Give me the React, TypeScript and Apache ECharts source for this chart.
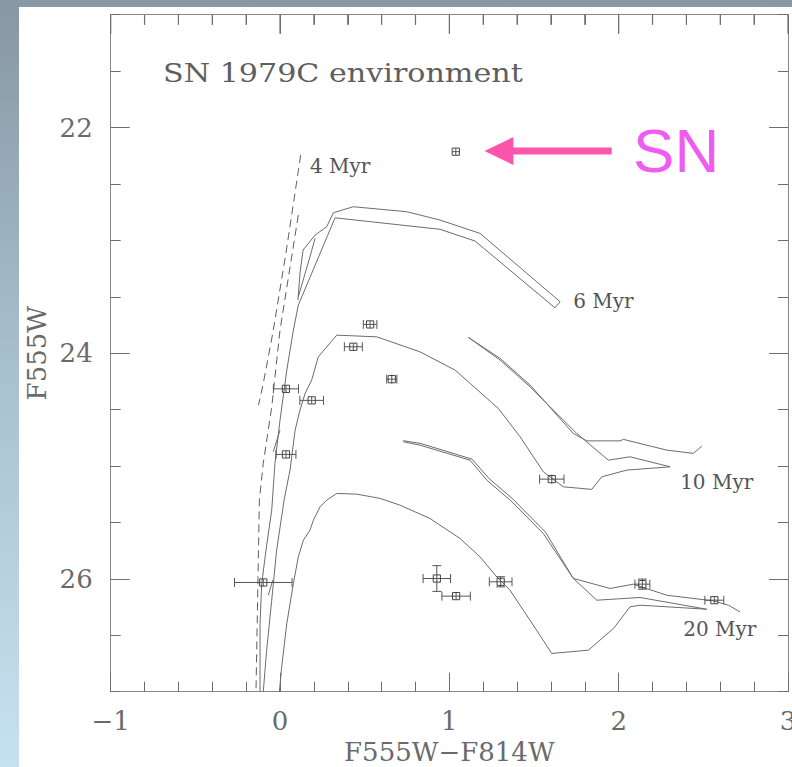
import React, { useEffect, useRef } from "react";
import * as echarts from "echarts";

// ---------- axes ----------
const xRange = [-1, 3];
const yRange = [21, 27];
const yLabelValues = [22, 24, 26];
const xMinorStep = 0.2;

const titleText = "SN 1979C environment";
const xTitle = "F555W\u2212F814W";
const yTitle = "F555W";

// ---------- observed stars: [F555W-F814W, F555W, colour error, magnitude error] ----------
const snStar = [[1.038, 22.214, 0.02, 0.03]];
const stars = [
  [0.532, 23.745, 0.04, 0.03],
  [0.433, 23.943, 0.053, 0.03],
  [0.66, 24.23, 0.03, 0.04],
  [0.035, 24.316, 0.074, 0.03],
  [0.187, 24.418, 0.07, 0.03],
  [0.035, 24.897, 0.059, 0.03],
  [1.605, 25.116, 0.072, 0.04],
  [-0.099, 26.032, 0.17, 0.03],
  [0.926, 25.997, 0.081, 0.114],
  [1.04, 26.153, 0.084, 0.03],
  [1.303, 26.026, 0.067, 0.045],
  [2.14, 26.047, 0.044, 0.045],
  [2.565, 26.189, 0.056, 0.03],
];

// ---------- isochrones ----------
const iso4MyrA = [[0.122, 22.244], [0.035, 23.113], [-0.043, 23.824], [-0.099, 24.268], [-0.127, 24.46]];
const iso4MyrB = [[0.108, 22.776], [0.0, 23.795], [-0.049, 24.478], [-0.099, 24.974], [-0.122, 25.302], [-0.142, 27.0]];

const iso6Myr = [
  [0.106, 23.529], [0.118, 23.29], [0.136, 23.086], [0.207, 22.953], [0.276, 22.879], [0.315, 22.755],
  [0.433, 22.702], [0.748, 22.746], [0.945, 22.82], [1.181, 22.938], [1.654, 23.544], [1.624, 23.598],
  [1.152, 23.006], [0.945, 22.902], [0.768, 22.873], [0.325, 22.8], [0.108, 23.574], [0.079, 23.795],
  [0.04, 24.15], [0.0, 24.593], [-0.03, 24.977], [-0.049, 25.391], [-0.083, 25.746], [-0.108, 26.041],
  [-0.118, 26.393], [-0.118, 27.0],
];
const iso6MyrLoop = [[0.207, 22.982], [0.177, 23.145], [0.108, 23.5]];
const iso6MyrBitA = [[0.0, 24.682], [-0.04, 24.874]];
const iso6MyrBitB = [[-0.043, 26.011], [-0.069, 26.144]];

const iso10Myr = [
  [-0.099, 27.002], [-0.079, 26.632], [-0.049, 26.188], [-0.02, 25.746], [0.024, 25.302], [0.059, 25.036],
  [0.089, 24.682], [0.118, 24.504], [0.148, 24.356], [0.187, 24.238], [0.226, 24.032], [0.335, 23.84],
  [0.571, 23.855], [0.827, 23.988], [1.034, 24.15], [1.289, 24.489], [1.418, 24.741], [1.555, 25.051],
  [1.673, 25.184], [1.841, 25.207], [1.9, 25.096], [2.048, 25.036], [2.304, 25.007], [2.067, 24.918],
  [1.939, 24.948], [1.752, 24.711], [1.477, 24.298], [1.3, 24.061], [1.112, 23.86],
];
const iso10MyrBranch = [
  [1.112, 23.86], [1.3, 24.046], [1.477, 24.283], [1.732, 24.711], [1.812, 24.777], [2.008, 24.777],
  [2.028, 24.764], [2.284, 24.859], [2.441, 24.888], [2.491, 24.824],
];

const iso20Myr = [
  [-0.004, 27.002], [0.01, 26.78], [0.04, 26.395], [0.079, 26.041], [0.108, 25.805], [0.138, 25.657],
  [0.177, 25.568], [0.197, 25.48], [0.236, 25.362], [0.276, 25.302], [0.335, 25.243], [0.453, 25.249],
  [0.591, 25.287], [0.709, 25.347], [0.886, 25.465], [1.063, 25.642], [1.181, 25.805], [1.28, 25.982],
  [1.358, 26.1], [1.476, 26.366], [1.605, 26.661], [1.821, 26.632], [1.969, 26.44], [2.067, 26.248],
  [2.126, 26.233], [2.52, 26.269], [2.126, 26.165], [1.871, 26.189], [1.732, 25.996], [1.555, 25.598],
  [1.359, 25.302], [1.221, 25.125], [1.122, 24.948], [0.827, 24.815], [0.728, 24.785],
];
const iso20MyrBranch = [
  [2.717, 26.293], [2.648, 26.233], [2.559, 26.195], [2.284, 26.145], [2.087, 26.047], [1.949, 26.085],
  [1.732, 25.996], [1.568, 25.586], [1.373, 25.289], [1.235, 25.112], [1.134, 24.939], [0.833, 24.801],
  [0.728, 24.775],
];

// ---------- annotations (anchor in data units) ----------
const isoLabels = [
  { text: "4 Myr", at: [0.177, 22.341] },
  { text: "6 Myr", at: [1.731, 23.538] },
  { text: "10 Myr", at: [2.363, 25.143] },
  { text: "20 Myr", at: [2.381, 26.447] },
];
const titleAnchor = [-0.691, 21.517];
const snLabel = { text: "SN", at: [2.085, 22.2] };
const snArrow = { from: [1.959, 22.208], to: [1.207, 22.208] };

const SERIF = "DejaVu Serif";
const LINE = "#6c6c6c";
const tickColor = "#6e6e6e";

function minus(v: number) {
  return v < 0 ? "\u2212" + Math.abs(v) : String(v);
}

function isoSeries(data: number[][], dashed = false) {
  return {
    type: "line",
    data,
    xAxisIndex: 0,
    yAxisIndex: 0,
    showSymbol: false,
    symbol: "none",
    silent: true,
    lineStyle: { color: dashed ? "#5e5e5e" : LINE, width: 1, type: dashed ? [8, 5] : "solid" },
    emphasis: { disabled: true },
    z: 2,
  };
}

function errRender(params: any, api: any) {
  const x = api.value(0);
  const y = api.value(1);
  const ex = api.value(2);
  const ey = api.value(3);
  const c = api.coord([x, y]);
  const l = api.coord([x - ex, y]);
  const r = api.coord([x + ex, y]);
  const t = api.coord([x, y - ey]);
  const b = api.coord([x, y + ey]);
  const cap = 4.5;
  const h = 3.6;
  const st = { stroke: "#555", lineWidth: 1, fill: null };
  const children: any[] = [
    { type: "line", shape: { x1: l[0], y1: l[1], x2: r[0], y2: r[1] }, style: st },
    { type: "line", shape: { x1: c[0], y1: t[1], x2: c[0], y2: b[1] }, style: st },
    { type: "rect", shape: { x: c[0] - h, y: c[1] - h, width: 2 * h, height: 2 * h }, style: { stroke: "#444", lineWidth: 1, fill: "rgba(0,0,0,0)" } },
  ];
  if (r[0] - c[0] > h + 1) {
    children.push({ type: "line", shape: { x1: l[0], y1: l[1] - cap, x2: l[0], y2: l[1] + cap }, style: st });
    children.push({ type: "line", shape: { x1: r[0], y1: r[1] - cap, x2: r[0], y2: r[1] + cap }, style: st });
  }
  if (b[1] - c[1] > h + 1) {
    children.push({ type: "line", shape: { x1: c[0] - cap, y1: t[1], x2: c[0] + cap, y2: t[1] }, style: st });
    children.push({ type: "line", shape: { x1: c[0] - cap, y1: b[1], x2: c[0] + cap, y2: b[1] }, style: st });
  }
  return { type: "group", children };
}

const axisLineStyle = { color: "#888", width: 1 };
const labelStyle = { fontFamily: SERIF, fontSize: 26, color: "#6a6a6a" };

function xAxisDef(position: "bottom" | "top") {
  return {
    type: "value",
    position,
    min: xRange[0],
    max: xRange[1],
    interval: 1,
    axisLine: { show: true, onZero: false, lineStyle: axisLineStyle },
    axisTick: { show: true, inside: true, length: 19, lineStyle: { color: tickColor } },
    minorTick: { show: true, splitNumber: 5, length: 10, lineStyle: { color: tickColor } },
    splitLine: { show: false },
    minorSplitLine: { show: false },
    axisLabel: position === "bottom" ? { show: true, margin: 16, formatter: minus, ...labelStyle } : { show: false },
  };
}

function yMinorDef(position: "left" | "right") {
  return {
    type: "value",
    position,
    inverse: true,
    min: yRange[0],
    max: yRange[1],
    interval: 0.5,
    axisLine: { show: true, onZero: false, lineStyle: axisLineStyle },
    axisTick: { show: true, inside: true, length: 10, lineStyle: { color: tickColor } },
    splitLine: { show: false },
    axisLabel: { show: false },
  };
}

function yMajorDef(position: "left" | "right") {
  return {
    type: "value",
    position,
    inverse: true,
    min: yRange[0],
    max: yRange[1],
    axisLine: { show: false, onZero: false },
    axisTick: { show: true, inside: true, length: 19, customValues: yLabelValues, lineStyle: { color: tickColor } },
    splitLine: { show: false },
    axisLabel:
      position === "left"
        ? { show: true, margin: 18, customValues: yLabelValues, formatter: minus, ...labelStyle }
        : { show: false },
  };
}

export default function App() {
  const ref = useRef<HTMLDivElement>(null);

  useEffect(() => {
    if (!ref.current) return;
    const chart = echarts.init(ref.current, null, { renderer: "svg" });
    const option: any = {
      animation: false,
      backgroundColor: "transparent",
      grid: { left: 110.7, top: 14.7, right: 4, bottom: 75.3, outerBoundsMode: "none", containLabel: false },
      xAxis: [xAxisDef("bottom"), xAxisDef("top")],
      yAxis: [yMinorDef("left"), yMajorDef("left"), yMinorDef("right"), yMajorDef("right")],
      series: [
        isoSeries(iso4MyrA, true),
        isoSeries(iso4MyrB, true),
        isoSeries(iso6Myr),
        isoSeries(iso6MyrLoop),
        isoSeries(iso6MyrBitA),
        isoSeries(iso6MyrBitB),
        isoSeries(iso10Myr),
        isoSeries(iso10MyrBranch),
        isoSeries(iso20Myr),
        isoSeries(iso20MyrBranch),
        {
          type: "custom",
          name: "stars",
          xAxisIndex: 0,
          yAxisIndex: 0,
          renderItem: errRender,
          data: [...snStar, ...stars],
          encode: { x: 0, y: 1 },
          silent: true,
          z: 5,
        },
      ],
    };
    chart.setOption(option);

    const p = (pt: number[]) => chart.convertToPixel({ xAxisIndex: 0, yAxisIndex: 0 }, pt) as number[];
    const tl = p([xRange[0], yRange[0]]);
    const br = p([xRange[1], yRange[1]]);
    const cx = (tl[0] + br[0]) / 2;
    const cy = (tl[1] + br[1]) / 2;

    const arrowFrom = p(snArrow.from);
    const arrowTo = p(snArrow.to);
    const headLen = 29;
    const headHalf = 14;

    // top-side ticks (mirror of the bottom axis) drawn as thin filled bars, placed through the x scale
    const nMinor = Math.round((xRange[1] - xRange[0]) / xMinorStep);
    const topTicks: any[] = [];
    for (let i = 0; i <= nMinor; i++) {
      const v = xRange[0] + i * xMinorStep;
      const q = p([v, yRange[0]]);
      const len = i % 5 === 0 ? 19 : 10;
      topTicks.push({
        type: "rect",
        z: 100,
        silent: true,
        shape: { x: q[0] - 0.6, y: q[1], width: 1.2, height: len },
        style: { fill: tickColor },
      });
    }

    const graphic: any[] = [
      ...topTicks,
      {
        type: "text",
        x: p(titleAnchor)[0],
        y: p(titleAnchor)[1],
        scaleX: 1.16,
        style: { text: titleText, fontFamily: SERIF, fontSize: 26, fill: "#5e5e5e", align: "left", verticalAlign: "middle" },
      },
      {
        type: "text",
        x: cx,
        y: br[1] + 60,
        style: { text: xTitle, fontFamily: SERIF, fontSize: 26, fill: "#6a6a6a", align: "center", verticalAlign: "middle" },
      },
      {
        type: "text",
        x: 37,
        y: cy,
        rotation: Math.PI / 2,
        style: { text: yTitle, fontFamily: SERIF, fontSize: 26, fill: "#6a6a6a", align: "center", verticalAlign: "middle" },
      },
      ...isoLabels.map((lb) => {
        const q = p(lb.at);
        return {
          type: "text",
          x: q[0],
          y: q[1],
          style: { text: lb.text, fontFamily: SERIF, fontSize: 20, fill: "#555", align: "left", verticalAlign: "middle" },
        };
      }),
      {
        type: "line",
        shape: { x1: arrowFrom[0], y1: arrowFrom[1], x2: arrowTo[0] + headLen - 2, y2: arrowTo[1] },
        style: { stroke: "#fd55ab", lineWidth: 7 },
      },
      {
        type: "polygon",
        shape: {
          points: [
            [arrowTo[0], arrowTo[1]],
            [arrowTo[0] + headLen, arrowTo[1] - headHalf],
            [arrowTo[0] + headLen, arrowTo[1] + headHalf],
          ],
        },
        style: { fill: "#fd55ab" },
      },
      {
        type: "text",
        x: p(snLabel.at)[0],
        y: p(snLabel.at)[1],
        style: { text: snLabel.text, fontFamily: "Liberation Sans", fontSize: 62, fill: "#f05cf0", align: "left", verticalAlign: "middle" },
      },
    ];
    chart.setOption({ graphic });

    return () => chart.dispose();
  }, []);

  return (
    <div
      style={{
        position: "fixed",
        left: 0,
        top: 0,
        width: 792,
        height: 767,
        overflow: "hidden",
        background: "linear-gradient(to bottom, #8797a3 0%, #a9c2d0 50%, #c6e1ef 100%)",
      }}
    >
      <div style={{ position: "absolute", left: 19, top: 7, right: 0, bottom: 0, background: "#ffffff" }} />
      <div ref={ref} style={{ position: "absolute", left: 0, top: 0, width: 792, height: 767 }} />
    </div>
  );
}
